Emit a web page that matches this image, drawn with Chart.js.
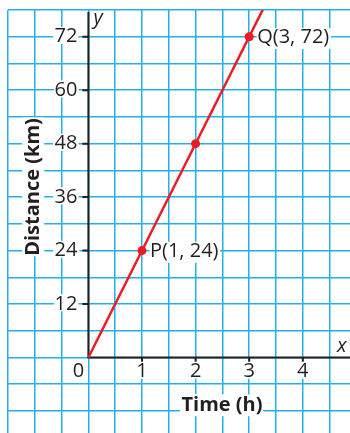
<!DOCTYPE html>
<html>
<head>
<meta charset="UTF-8">
<title>Distance vs Time</title>
<script src="https://cdn.jsdelivr.net/npm/chart.js"></script>
<style>
body {
  margin: 0;
  background: #fff;
  overflow: hidden;
}
canvas {
  display: block;
}
</style>
</head>
<body>
<!-- a little wider/taller than the window so the graph paper runs off the edges -->
<canvas id="chart" width="355" height="438"></canvas>
<script>
// marked points
const times = [1, 2, 3];
const distances = [24, 48, 72];
const pointNames = ['P(1, 24)', '', 'Q(3, 72)'];

// the line d = 24t, running past the top of the grid
const lineTimes = [0, 3.5];
const lineDistances = [0, 84];

// labelled ticks
const xTicks = [1, 2, 3, 4];
const yTicks = [12, 24, 36, 48, 60, 72];

// graph paper lines
const xGrid = [-1.5, -1, -0.5, 0, 0.5, 1, 1.5, 2, 2.5, 3, 3.5, 4, 4.5];
const yGrid = [-12, -6, 0, 6, 12, 18, 24, 30, 36, 42, 48, 54, 60, 66, 72, 78];

const red = '#ed1c24';
const ink = '#231f20';
const paper = '#22b0e8';

function boxedText(ctx, text, x, y, font, align) {
  ctx.font = font;
  ctx.textAlign = align;
  ctx.textBaseline = 'middle';
  const m = ctx.measureText(text);
  const pad = 1.5;
  ctx.fillStyle = '#fff';
  ctx.fillRect(x - m.actualBoundingBoxLeft - pad, y - m.actualBoundingBoxAscent - pad,
    m.actualBoundingBoxLeft + m.actualBoundingBoxRight + pad * 2,
    m.actualBoundingBoxAscent + m.actualBoundingBoxDescent + pad * 2);
  ctx.fillStyle = ink;
  ctx.fillText(text, x, y);
}

const axesPlugin = {
  id: 'axes',
  beforeDatasetsDraw(chart) {
    const { ctx, chartArea, scales: { x, y } } = chart;
    const ox = x.getPixelForValue(0);
    const oy = y.getPixelForValue(0);
    ctx.save();
    ctx.strokeStyle = ink;
    ctx.lineWidth = 2;
    ctx.beginPath();
    ctx.moveTo(ox, chartArea.top + 2);
    ctx.lineTo(ox, oy);
    ctx.lineTo(chartArea.right, oy);
    yTicks.forEach(v => {
      const py = y.getPixelForValue(v);
      ctx.moveTo(ox - 6, py);
      ctx.lineTo(ox, py);
    });
    xTicks.forEach(v => {
      const px = x.getPixelForValue(v);
      ctx.moveTo(px, oy);
      ctx.lineTo(px, oy + 6);
    });
    ctx.stroke();

    const tickFont = '20px "Open Sans"';
    yTicks.forEach(v => boxedText(ctx, String(v), ox - 11, y.getPixelForValue(v), tickFont, 'right'));
    xTicks.forEach(v => boxedText(ctx, String(v), x.getPixelForValue(v), oy + 14, tickFont, 'center'));
    boxedText(ctx, '0', ox - 10, oy + 14, tickFont, 'center');

    ctx.font = 'italic 20px "Open Sans"';
    ctx.fillStyle = ink;
    ctx.textAlign = 'left';
    ctx.textBaseline = 'middle';
    ctx.fillText('y', ox + 5, chartArea.top + 8);
    ctx.fillText('x', 337, oy - 11);

    const titleFont = 'bold 20px "Open Sans"';
    boxedText(ctx, 'Time (h)', 222, 405, titleFont, 'center');
    ctx.save();
    ctx.translate(33, 187);
    ctx.rotate(-Math.PI / 2);
    boxedText(ctx, 'Distance (km)', 0, 0, titleFont, 'center');
    ctx.restore();
    ctx.restore();
  },
  afterDatasetsDraw(chart) {
    const { ctx, scales: { x, y } } = chart;
    ctx.save();
    times.forEach((t, i) => {
      if (!pointNames[i]) return;
      boxedText(ctx, pointNames[i], x.getPixelForValue(t) + 8, y.getPixelForValue(distances[i]) + 1,
        '20px "Open Sans"', 'left');
    });
    ctx.restore();
  }
};

new Chart(document.getElementById('chart'), {
  type: 'scatter',
  data: {
    datasets: [{
      data: lineTimes.map((t, i) => ({ x: t, y: lineDistances[i] })),
      showLine: true,
      borderColor: red,
      borderWidth: 2.5,
      pointRadius: 0
    }, {
      data: times.map((t, i) => ({ x: t, y: distances[i] })),
      showLine: false,
      pointRadius: 4.5,
      backgroundColor: red,
      borderWidth: 0
    }]
  },
  options: {
    responsive: false,
    animation: false,
    devicePixelRatio: 1,
    layout: { padding: { left: 8, top: 10, right: 0, bottom: 0 } },
    plugins: { legend: { display: false }, tooltip: { enabled: false } },
    scales: {
      x: {
        type: 'linear',
        min: -1.5,
        max: 4.89,
        afterBuildTicks: s => { s.ticks = xGrid.map(v => ({ value: v })); },
        afterFit: s => { s.height = 0; },
        ticks: { display: false },
        border: { display: false },
        grid: { color: paper, lineWidth: 1.5, drawTicks: false }
      },
      y: {
        type: 'linear',
        min: -17.06,
        max: 78,
        afterBuildTicks: s => { s.ticks = yGrid.map(v => ({ value: v })); },
        afterFit: s => { s.width = 0; },
        ticks: { display: false },
        border: { display: false },
        grid: { color: paper, lineWidth: 1.5, drawTicks: false }
      }
    }
  },
  plugins: [axesPlugin]
});
</script>
</body>
</html>
